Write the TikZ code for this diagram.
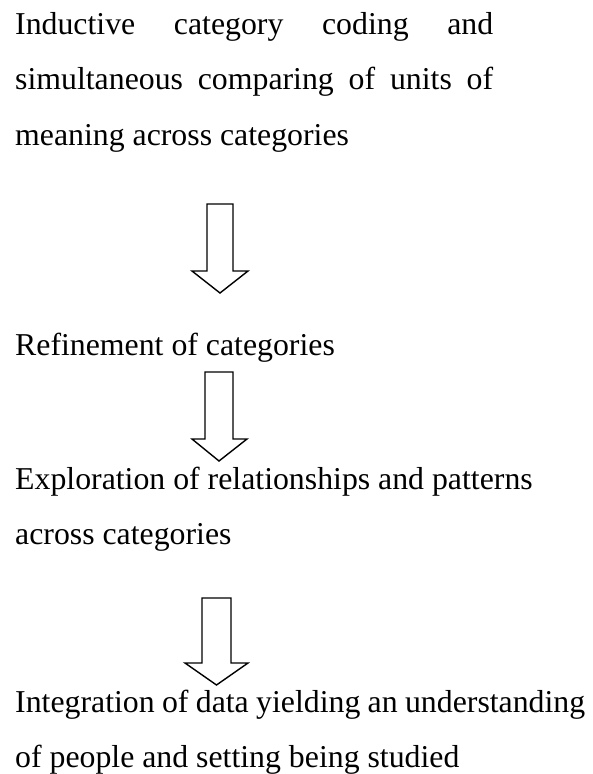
\documentclass[tikz,border=0pt]{standalone}
\usepackage{fontspec}
\setmainfont{Liberation Serif}
\usepackage{tikz}
\usetikzlibrary{positioning}

\tikzset{
  stage/.style={anchor=base west, inner sep=0pt, text width=#1, align=justify,
    font=\fontsize{31.8}{55.5}\selectfont},
  stage/.default=570pt,
  blockarrow/.style={draw=black, line width=1.4pt, miter limit=10, fill=white}
}

\begin{document}
\begin{tikzpicture}[x=1pt, y=-1pt]
  \useasboundingbox (0,0) rectangle (592,774);
  \node[stage=478pt] (coding) at (15,34) {Inductive category coding and\linebreak
    simultaneous comparing of units of\linebreak meaning across categories};
  \draw[blockarrow] (207,204) -- (207,271) -- (192,271) -- (220,293) -- (248,271) -- (233,271) -- (233,204) -- cycle;
  \node[stage] (refine) at (15,355) {Refinement of categories};
  \draw[blockarrow] (205,372) -- (205,439) -- (192,439) -- (219,461) -- (247,439) -- (233,439) -- (233,372) -- cycle;
  \node[stage] (explore) at (15,489) {Exploration of relationships and patterns\newline across categories};
  \draw[blockarrow] (202,598) -- (202,663) -- (185,663) -- (216.5,685) -- (248,663) -- (231,663) -- (231,598) -- cycle;
  \node[stage] (integrate) at (15,712) {Integration of data yielding an understanding\newline of people and setting being studied};
\end{tikzpicture}
\end{document}
